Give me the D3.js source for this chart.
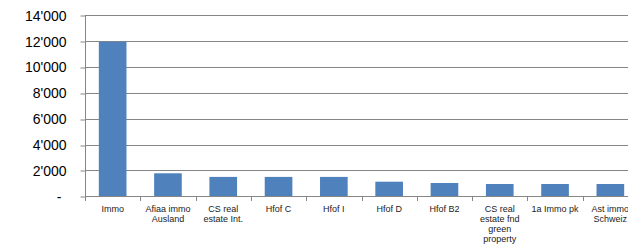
<!DOCTYPE html>
<html><head><meta charset="utf-8">
<script src="https://cdn.jsdelivr.net/npm/d3@7"></script>
<style>html,body{margin:0;padding:0;background:#fff;overflow:hidden}</style>
</head><body><svg id="c" width="628" height="245"></svg>
<script>
const categories = ["Immo","Afiaa immo\nAusland","CS real\nestate Int.","Hfof C","Hfof I","Hfof D","Hfof B2","CS real\nestate fnd\ngreen\nproperty","1a Immo pk","Ast immo\nSchweiz"];
const values = [11950,1780,1500,1500,1500,1130,1030,950,950,950];
const yTicks = [0,2000,4000,6000,8000,10000,12000,14000];
const yTickLabels = ["-","2'000","4'000","6'000","8'000","10'000","12'000","14'000"];

(function(){
const svg = d3.select("#c");
const pL = 85, pR = 638, pT = 15.3, pB = 196.3;
const x = d3.scaleBand().domain(categories).range([pL, pR]).paddingInner(0.5).paddingOuter(0.25);
const y = d3.scaleLinear().domain([0,14000]).range([pB, pT]);
const grid = "#868686";

// gridlines
svg.append("g").selectAll("line").data(yTicks.filter(d=>d>0)).join("line")
  .attr("x1", pL).attr("x2", 628).attr("y1", d=>Math.round(y(d))+0.5).attr("y2", d=>Math.round(y(d))+0.5)
  .attr("stroke", grid).attr("stroke-width", 1);

// bars
svg.append("g").selectAll("rect").data(values).join("rect")
  .attr("x", (d,i)=>x(categories[i])).attr("width", x.bandwidth())
  .attr("y", d=>y(d)).attr("height", d=>y(0)-y(d))
  .attr("fill", "#4F81BD");

// y axis
const yAxis = d3.axisLeft(y).tickValues(yTicks).tickSize(5).tickPadding(14)
  .tickFormat((d,i)=>yTickLabels[i]);
const gy = svg.append("g").attr("transform", `translate(${pL+0.5},0)`).call(yAxis);
gy.selectAll(".tick line").attr("stroke", grid).attr("transform", d=>`translate(0,${Math.round(y(d))+0.5-y(d)})`);
gy.select(".domain").attr("stroke", grid).attr("d", `M0,${pT}V${pB+0.5}`);
gy.selectAll("text").attr("font-family","Liberation Sans, Arial, sans-serif").attr("font-size", 14).attr("fill","#000")
  .attr("dy","0.35em").attr("dx", (d)=>d===0 ? -5 : 0);

// x axis
const xg = svg.append("g");
xg.append("line").attr("x1", pL).attr("x2", 628).attr("y1", Math.round(pB)+0.5).attr("y2", Math.round(pB)+0.5).attr("stroke", grid);
const bounds = d3.range(categories.length+1).map(i=> pL + i*x.step());
xg.selectAll("line.t").data(bounds).join("line").attr("class","t")
  .attr("x1", d=>Math.round(d)+0.5).attr("x2", d=>Math.round(d)+0.5)
  .attr("y1", Math.round(pB)+0.5).attr("y2", Math.round(pB)+5).attr("stroke", grid);

const labels = xg.selectAll("text.l").data(categories).join("text").attr("class","l")
  .attr("font-family","Liberation Sans, Arial, sans-serif").attr("font-size", 9).attr("fill","#222")
  .attr("text-anchor","middle");
labels.each(function(d){
  const cx = x(d) + x.bandwidth()/2;
  d.split("\n").forEach((ln,j)=>{
    d3.select(this).append("tspan").attr("x", cx).attr("y", 211.5 + j*10.3).text(ln);
  });
});
})();
</script></body></html>
